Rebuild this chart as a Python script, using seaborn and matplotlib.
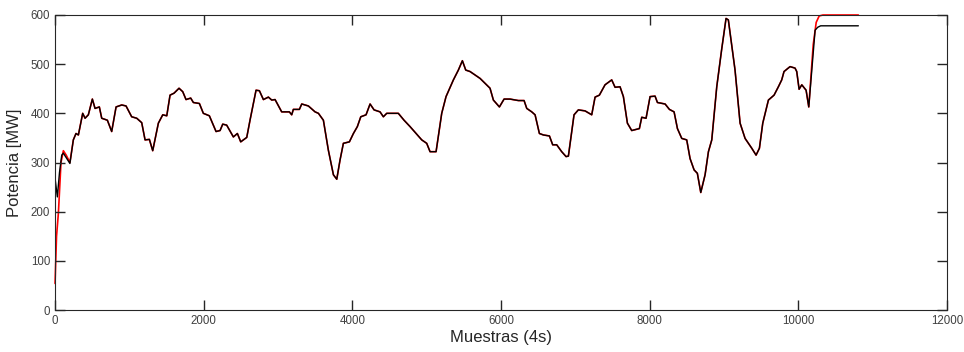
import numpy as np
import pandas as pd
import matplotlib
matplotlib.use("Agg")
import matplotlib.pyplot as plt
import seaborn as sns

# ---- datos (muestra, MW) ----
# tramo inicial de cada serie
red_head_x = [0, 20, 45, 80, 112, 150, 200]
red_head_y = [54, 150, 197, 300, 324, 315, 300]
black_head_x = [0, 31, 60, 90, 112, 150, 200]
black_head_y = [268, 230, 280, 315, 319, 310, 298]

# tramo comun (ambas curvas casi superpuestas)
mid_x = [246, 282, 314, 372, 404, 448, 502, 538, 596, 628, 704, 762, 821, 897,
         955, 1031, 1099, 1166, 1211, 1269, 1314, 1390, 1449, 1503, 1547, 1601,
         1668, 1718, 1762, 1825, 1861, 1942, 1995, 2076, 2166, 2220, 2256, 2309,
         2399, 2453, 2498, 2579, 2623, 2704, 2749, 2803, 2870, 2915, 2960, 3049,
         3152, 3184, 3206, 3287, 3319, 3408, 3498, 3543, 3610, 3677, 3745, 3790,
         3834, 3879, 3960, 4014, 4067, 4113, 4184, 4238, 4292, 4372, 4417, 4462,
         4618, 4695, 4776, 4857, 4933, 5000, 5045, 5126, 5202, 5260, 5359, 5426,
         5480, 5525, 5583, 5650, 5718, 5785, 5852, 5897, 5978, 6041, 6121, 6233,
         6310, 6346, 6413, 6458, 6516, 6570, 6651, 6695, 6749, 6816, 6875, 6906,
         6982, 7040, 7130, 7220, 7265, 7323, 7399, 7489, 7534, 7601, 7646, 7700,
         7758, 7861, 7893, 7951, 8005, 8072, 8104, 8207, 8265, 8328, 8373, 8431,
         8498, 8543, 8597, 8641, 8687, 8745, 8790, 8835, 8902, 8969, 9027, 9058,
         9148, 9216, 9283, 9373, 9431, 9476, 9521, 9597, 9673, 9731, 9776, 9807,
         9888, 9955, 9978, 10010, 10046, 10104, 10140]
mid_y = [346, 359, 356, 400, 390, 397, 429, 410, 413, 390, 386, 363, 413, 417,
         415, 393, 390, 381, 346, 347, 324, 380, 397, 395, 437, 441,
         451, 444, 428, 431, 422, 420, 400, 395, 363, 365, 378, 376,
         352, 359, 342, 351, 386, 447, 446, 428, 433, 427, 428, 403,
         403, 397, 408, 408, 419, 415, 403, 400, 386, 325, 275, 266,
         305, 339, 342, 359, 373, 393, 397, 419, 407, 403, 393, 400,
         400, 386, 373, 359, 346, 339, 322, 322, 400, 434, 468, 488,
         507, 488, 485, 478, 471, 461, 451, 427, 413, 429, 429, 426,
         426, 410, 403, 397, 359, 356, 354, 336, 336, 322, 312, 313,
         397, 407, 405, 397, 433, 437, 458, 468, 453, 454, 434, 380,
         365, 369, 392, 390, 434, 435, 422, 419, 408, 403, 369, 349,
         346, 308, 285, 278, 239, 275, 322, 346, 454, 531, 593, 590,
         488, 380, 349, 329, 315, 329, 380, 427, 437, 454, 468, 485,
         495, 492, 485, 449, 458, 447, 413]

# tramo final de cada serie
red_tail_x = [10200, 10240, 10280, 10330, 10807]
red_tail_y = [540, 585, 598, 600, 600]
black_tail_x = [10225, 10260, 10300, 10400, 10807]
black_tail_y = [569, 575, 578, 578, 578]

red = pd.DataFrame({"x": red_head_x + mid_x + red_tail_x,
                    "y": red_head_y + mid_y + red_tail_y})
black = pd.DataFrame({"x": black_head_x + mid_x + black_tail_x,
                      "y": black_head_y + mid_y + black_tail_y})

sns.set_theme(style="ticks")
plt.rcParams['font.family'] = ['Liberation Sans', 'DejaVu Sans']
plt.rcParams['axes.linewidth'] = 0.8
plt.rcParams['axes.edgecolor'] = "#262626"
plt.rcParams['axes.axisbelow'] = False
plt.rcParams['xtick.labelsize'] = 8.3
plt.rcParams['ytick.labelsize'] = 8.3
plt.rcParams['xtick.labelcolor'] = "#404040"
plt.rcParams['ytick.labelcolor'] = "#404040"

fig = plt.figure(figsize=(9.64, 3.52), dpi=100)
ax = fig.add_axes([0.0571, 0.1193, 0.9253, 0.8381])

sns.lineplot(data=red, x="x", y="y", color="red", linewidth=1.2,
             estimator=None, sort=False, ax=ax, clip_on=False)
sns.lineplot(data=black, x="x", y="y", color="black", linewidth=1.0,
             estimator=None, sort=False, ax=ax)

ax.set_xlim(0, 12000)
ax.set_ylim(0, 600)
ax.set_xticks(np.arange(0, 12001, 2000))
ax.set_yticks(np.arange(0, 601, 100))

# ticks hacia dentro en las cuatro caras (estilo caja)
ax.tick_params(direction="in", length=7, width=1.0, color="#262626",
               top=True, right=True)

ax.set_xlabel("Muestras (4s)", fontsize=12, color="#262626", labelpad=2)
ax.set_ylabel("Potencia [MW]", fontsize=12, color="#262626", labelpad=6)

fig.savefig("out.png", dpi=100)
